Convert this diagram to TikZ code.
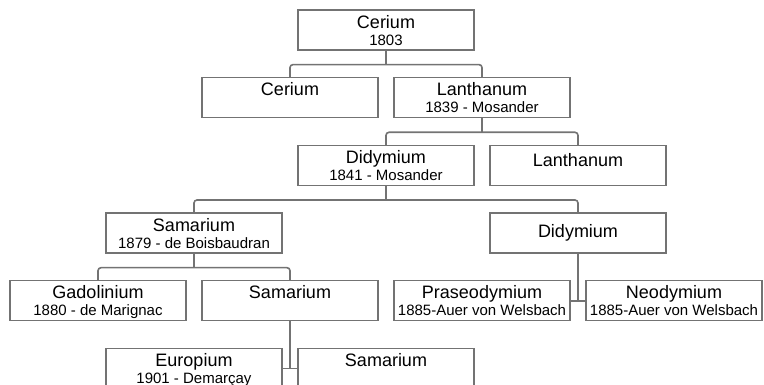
\documentclass[tikz,border=0pt]{standalone}
\usepackage{fontspec}
\setmainfont{Liberation Sans}
\newcommand{\yr}[1]{{\fontsize{15}{17}\selectfont #1}}

\begin{document}
\begin{tikzpicture}[x=48pt,y=-67.7pt,
    box/.style={draw=black!55,line width=1.2pt,minimum width=176pt,minimum height=40pt,
      inner sep=0pt,align=center,text depth=0pt,font=\fontsize{18}{17}\selectfont,text=black},
    link/.style={draw=black!55,line width=1.6pt,rounded corners=3pt}]

\clip (-2pt,30pt) rectangle (762pt,-355pt);

\node[box] (cer0) at (8,0) {Cerium\\\yr{1803}};
\node[box] (cer1) at (6,1) {Cerium\\\yr{\phantom{1}}};
\node[box] (lan1) at (10,1) {Lanthanum\\\yr{1839 - Mosander}};
\node[box] (did1) at (8,2) {Didymium\\\yr{1841 - Mosander}};
\node[box,text depth=11pt] (lan2) at (12,2) {Lanthanum};
\node[box] (sam1) at (4,3) {Samarium\\\yr{1879 - de Boisbaudran}};
\node[box,text depth=5pt] (did2) at (12,3) {Didymium};
\node[box] (gad) at (2,4) {Gadolinium\\\yr{1880 - de Marignac}};
\node[box] (sam2) at (6,4) {Samarium\\\yr{\phantom{1}}};
\node[box] (pra) at (10,4) {Praseodymium\\\yr{1885-Auer von Welsbach}};
\node[box] (neo) at (14,4) {Neodymium\\\yr{1885-Auer von Welsbach}};
\node[box] (eur) at (4,5) {Europium\\\yr{1901 - Demarçay}};
\node[box] (sam3) at (8,5) {Samarium\\\yr{\phantom{1}}};

\draw[link] (cer0.south) -- ++(0,-14pt) coordinate (b1);
\draw[link] (cer1.north) |- (b1) -| (lan1.north);
\draw[link] (lan1.south) -- ++(0,-14pt) coordinate (b2);
\draw[link] (did1.north) |- (b2) -| (lan2.north);
\draw[link] (did1.south) -- ++(0,-14pt) coordinate (b3);
\draw[link] (sam1.north) |- (b3) -| (did2.north);
\draw[link] (sam1.south) -- ++(0,-14pt) coordinate (b4);
\draw[link] (gad.north) |- (b4) -| (sam2.north);
\draw[link] (did2.south) -- (did2.south |- pra.east);
\draw[link] (pra.east) -- (neo.west);
\draw[link] (sam2.south) -- (sam2.south |- eur.east);
\draw[link] (eur.east) -- (sam3.west);
\end{tikzpicture}
\end{document}
